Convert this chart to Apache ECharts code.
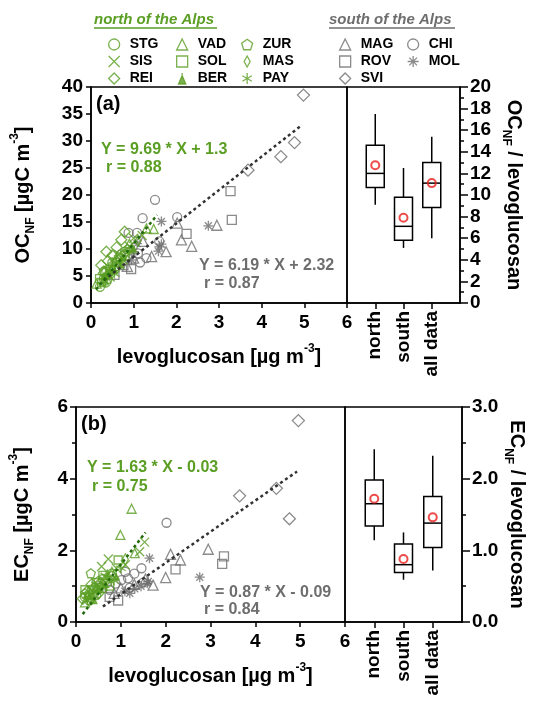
<!DOCTYPE html>
<html>
<head>
<meta charset="utf-8">
<script src="https://cdn.jsdelivr.net/npm/echarts@6/dist/echarts.min.js"></script>
<style>
  html, body { margin: 0; padding: 0; background: #fff; }
  #chart { width: 534px; height: 702px; }
</style>
</head>
<body>
<div id="chart"></div>
<script>
// ---- panel (a): [levoglucosan, OC_NF] ----
const STG_oc = [[0.21, 3.0], [0.3, 4.5], [0.45, 5.5], [0.5, 7.5], [0.6, 6.8], [0.8, 9.5], [0.35, 3.8], [0.7, 8.2]]
const SIS_oc = [[0.4, 6.0], [0.55, 7.2], [0.65, 9.0], [0.9, 10.5], [1.0, 12.0], [0.45, 4.8], [0.75, 8.0], [1.2, 12.5]]
const REI_oc = [[0.24, 7.0], [0.36, 9.5], [0.79, 13.2], [0.71, 11.7], [0.5, 8.8], [0.3, 5.5], [0.6, 10.3], [0.4, 7.8]]
const VAD_oc = [[0.13, 3.6], [1.47, 13.7], [1.3, 13.8], [0.9, 11.0], [0.5, 6.5], [0.3, 4.2]]
const SOL_oc = [[0.2, 4.5], [0.35, 5.8], [0.6, 7.5], [0.8, 8.8], [0.45, 6.2], [0.25, 3.8]]
const BER_oc = [[0.3, 5.0], [0.55, 6.0], [0.7, 7.0], [1.0, 10.0], [0.4, 5.2]]
const ZUR_oc = [[0.3, 6.0], [0.5, 7.0], [0.65, 8.5], [0.4, 4.5], [0.85, 10.0]]
const MAS_oc = [[0.35, 5.0], [0.6, 8.0], [1.1, 11.5], [0.5, 6.3], [0.8, 9.0]]
const PAY_oc = [[0.3, 4.0], [0.45, 5.8], [0.7, 7.5], [0.9, 9.5], [0.55, 5.4]]
const MAG_oc = [[1.22, 11.4], [1.42, 8.6], [1.76, 9.5], [2.02, 14.8], [2.12, 11.7], [2.36, 10.5], [2.95, 14.4], [1.0, 8.3], [0.85, 6.8]]
const ROV_oc = [[0.76, 7.0], [0.94, 6.3], [2.24, 12.8], [3.27, 20.7], [3.3, 15.4], [0.55, 5.2]]
const SVI_oc = [[3.68, 24.6], [4.45, 27.1], [4.77, 29.7], [4.98, 38.5]]
const CHI_oc = [[0.88, 13.0], [1.08, 13.0], [1.21, 15.7], [1.5, 19.1], [2.02, 15.9], [1.6, 11.4], [1.1, 9.2], [1.15, 7.5], [1.3, 8.3], [0.7, 9.0]]
const MOL_oc = [[1.65, 15.1], [2.75, 14.3], [1.6, 10.4], [1.58, 9.6], [1.65, 10.9], [1.08, 11.0], [1.0, 9.5], [0.95, 8.0]]

// ---- panel (b): [levoglucosan, EC_NF] ----
const STG_ec = [[0.2, 0.7], [0.35, 0.9], [0.5, 1.0], [0.6, 1.2], [0.8, 1.35], [0.3, 0.6], [0.45, 0.75], [0.7, 1.1]]
const SIS_ec = [[0.57, 1.55], [0.72, 1.76], [1.42, 1.96], [1.53, 2.23], [0.9, 1.5], [0.45, 1.0], [1.1, 1.6], [0.65, 1.25]]
const REI_ec = [[0.15, 0.65], [0.25, 0.85], [0.4, 0.95], [0.55, 1.1], [0.3, 0.7], [0.7, 1.2], [0.5, 0.8], [0.35, 1.05]]
const VAD_ec = [[1.24, 3.16], [0.99, 2.43], [1.31, 1.92], [0.8, 1.4], [0.4, 0.8], [0.2, 0.55]]
const SOL_ec = [[0.94, 1.73], [0.6, 1.3], [0.3, 0.75], [0.45, 1.1], [0.75, 1.0], [0.2, 0.9]]
const BER_ec = [[0.3, 0.7], [0.5, 0.9], [0.65, 1.05], [0.9, 1.25], [0.4, 0.6]]
const ZUR_ec = [[0.33, 1.36], [0.5, 1.15], [0.2, 0.8], [0.6, 0.95], [0.8, 1.3]]
const MAS_ec = [[0.35, 0.85], [0.55, 1.0], [1.1, 1.75], [0.7, 1.3], [0.25, 0.7]]
const PAY_ec = [[0.25, 0.6], [0.45, 0.85], [0.6, 0.95], [0.85, 1.15], [1.0, 1.5]]
const MAG_ec = [[2.0, 1.24], [2.11, 1.89], [2.33, 1.73], [2.95, 2.03], [1.72, 1.03], [1.3, 1.05], [1.0, 0.95], [1.55, 1.2], [0.85, 0.8]]
const ROV_ec = [[0.94, 0.6], [0.57, 0.95], [2.22, 1.47], [3.26, 1.62], [3.3, 1.83], [0.75, 0.7]]
const SVI_ec = [[3.65, 3.52], [4.47, 3.73], [4.76, 2.88], [4.96, 5.62]]
const CHI_ec = [[2.02, 2.77], [1.46, 1.5], [1.16, 1.22], [1.01, 1.17], [0.88, 1.07], [1.3, 1.35], [1.2, 0.95], [0.75, 0.9], [1.5, 1.1], [1.1, 1.4]]
const MOL_ec = [[2.76, 1.25], [1.64, 1.78], [1.61, 1.13], [1.31, 0.93], [1.09, 0.86], [1.59, 1.08], [1.45, 1.0], [1.2, 0.8]]

// regression line end points
const fitNorthOC = [[0.12, 2.5], [1.55, 16.3]]
const fitAllOC = [[0.3, 4.2], [4.95, 33.0]]
const fitNorthEC = [[0.15, 0.22], [1.55, 2.5]]
const fitAllEC = [[0.6, 0.43], [4.93, 4.2]]

// box plots: [category index, min, Q1, median, Q3, max]
const boxCategories = ['', 'north', 'south', 'all data', '']
const boxOC = [[1, 9.1, 10.7, 12.0, 14.6, 17.5], [2, 5.1, 5.8, 7.1, 9.8, 12.5], [3, 6.0, 8.85, 11.1, 13.0, 15.4]]
const meanOC = [[1, 12.75], [2, 7.9], [3, 11.1]]
const boxEC = [[1, 1.14, 1.34, 1.65, 1.98, 2.41], [2, 0.59, 0.69, 0.80, 1.09, 1.25], [3, 0.72, 1.04, 1.38, 1.75, 2.32]]
const meanEC = [[1, 1.72], [2, 0.88], [3, 1.46]]

const northSites = ['STG', 'SIS', 'REI', 'VAD', 'SOL', 'BER', 'ZUR', 'MAS', 'PAY']
const southSites = ['MAG', 'ROV', 'SVI', 'CHI', 'MOL']
const ocBySite = { STG: STG_oc, SIS: SIS_oc, REI: REI_oc, VAD: VAD_oc, SOL: SOL_oc, BER: BER_oc, ZUR: ZUR_oc, MAS: MAS_oc, PAY: PAY_oc, MAG: MAG_oc, ROV: ROV_oc, SVI: SVI_oc, CHI: CHI_oc, MOL: MOL_oc }
const ecBySite = { STG: STG_ec, SIS: SIS_ec, REI: REI_ec, VAD: VAD_ec, SOL: SOL_ec, BER: BER_ec, ZUR: ZUR_ec, MAS: MAS_ec, PAY: PAY_ec, MAG: MAG_ec, ROV: ROV_ec, SVI: SVI_ec, CHI: CHI_ec, MOL: MOL_ec }

const GREEN = '#5a9e23'
const GREEN_DARK = '#236b0c'
const GRAY = '#6e6e6e'
const FONT = 'Liberation Sans'

const CROSS = 'path://M0,0L10,10M10,0L0,10'
const PENTAGON = 'path://M5,0L10,3.6L8.1,9.5L1.9,9.5L0,3.6Z'
const ASTER6 = 'path://M5,0L5,10M0.7,2.5L9.3,7.5M0.7,7.5L9.3,2.5'
const ASTER8 = 'path://M5,0L5,10M0,5L10,5M1.5,1.5L8.5,8.5M8.5,1.5L1.5,8.5'

const siteStyle = {
  STG: { symbol: 'circle', size: 9 },
  SIS: { symbol: CROSS, size: 9 },
  REI: { symbol: 'diamond', size: 11 },
  VAD: { symbol: 'triangle', size: 9 },
  SOL: { symbol: 'rect', size: 8 },
  BER: { symbol: 'triangle', size: 6, filled: true },
  ZUR: { symbol: PENTAGON, size: 9 },
  MAS: { symbol: 'diamond', size: [6, 11] },
  PAY: { symbol: ASTER6, size: 10 },
  MAG: { symbol: 'triangle', size: 10 },
  ROV: { symbol: 'rect', size: 9 },
  SVI: { symbol: 'diamond', size: 12 },
  CHI: { symbol: 'circle', size: 9 },
  MOL: { symbol: ASTER8, size: 10 }
}

function siteSeries(name, data, color, panel) {
  const s = siteStyle[name]
  return {
    name: name,
    type: 'scatter',
    xAxisIndex: panel * 2,
    yAxisIndex: panel * 2,
    data: data,
    symbol: s.symbol,
    symbolSize: s.size,
    itemStyle: { color: s.filled ? color : 'rgba(0,0,0,0)', borderColor: color, borderWidth: 1.3 },
    emphasis: { disabled: true },
    z: color === GREEN ? 3 : 2
  }
}

function fitSeries(data, color, panel) {
  return {
    type: 'line', xAxisIndex: panel * 2, yAxisIndex: panel * 2,
    data: data, symbol: 'none', silent: true, z: 4,
    lineStyle: { color: color, width: 2.5, type: [3, 3] }
  }
}

function renderBox(params, api) {
  const x = api.value(0)
  const pMin = api.coord([x, api.value(1)])
  const pQ1 = api.coord([x, api.value(2)])
  const pMed = api.coord([x, api.value(3)])
  const pQ3 = api.coord([x, api.value(4)])
  const pMax = api.coord([x, api.value(5)])
  const w = 18
  const st = { stroke: '#000', lineWidth: 1.5, fill: 'none' }
  return {
    type: 'group',
    children: [
      { type: 'line', shape: { x1: pMin[0], y1: pMin[1], x2: pQ1[0], y2: pQ1[1] }, style: st },
      { type: 'line', shape: { x1: pQ3[0], y1: pQ3[1], x2: pMax[0], y2: pMax[1] }, style: st },
      { type: 'rect', shape: { x: pQ3[0] - w / 2, y: pQ3[1], width: w, height: pQ1[1] - pQ3[1] }, style: { stroke: '#000', lineWidth: 1.5, fill: '#fff' } },
      { type: 'line', shape: { x1: pMed[0] - w / 2, y1: pMed[1], x2: pMed[0] + w / 2, y2: pMed[1] }, style: st }
    ]
  }
}

function boxSeries(data, panel) {
  return {
    type: 'custom', xAxisIndex: panel * 2 + 1, yAxisIndex: panel * 2 + 1,
    data: data, encode: { x: 0, y: [1, 2, 3, 4, 5] }, renderItem: renderBox, silent: true
  }
}

function meanSeries(data, panel) {
  return {
    type: 'scatter', xAxisIndex: panel * 2 + 1, yAxisIndex: panel * 2 + 1,
    data: data, symbol: 'circle', symbolSize: 8, z: 5, silent: true,
    itemStyle: { color: 'rgba(0,0,0,0)', borderColor: '#e8211d', borderWidth: 2 }
  }
}

const rich = {
  b: { fontFamily: FONT, fontWeight: 'bold', fontSize: 20, lineHeight: 28, verticalAlign: 'middle', color: '#000' },
  s: { fontFamily: FONT, fontWeight: 'bold', fontSize: 12, lineHeight: 12, verticalAlign: 'bottom', color: '#000' },
  p: { fontFamily: FONT, fontWeight: 'bold', fontSize: 12, lineHeight: 12, verticalAlign: 'top', color: '#000' }
}
const axisLine = { show: true, lineStyle: { color: '#000', width: 1.5 } }
const tickLine = { color: '#000', width: 1.5 }
const labelStyle = { color: '#000', fontFamily: FONT, fontWeight: 'bold', fontSize: 19 }

function scatterX(grid, gap) {
  return {
    gridIndex: grid, type: 'value', min: 0, max: 6, interval: 1,
    axisLine: axisLine, axisTick: { length: 5, lineStyle: tickLine },
    axisLabel: Object.assign({ margin: 10 }, labelStyle),
    splitLine: { show: false },
    name: '{b|levoglucosan [µg m}{p|-3}{b|]}', nameLocation: 'middle', nameGap: gap,
    nameTextStyle: { rich: rich }
  }
}
function boxX(grid) {
  return {
    gridIndex: grid, type: 'category', data: boxCategories, boundaryGap: false,
    axisLine: axisLine,
    axisTick: { length: 6, lineStyle: tickLine, interval: function (i) { return i >= 1 && i <= 3 } },
    axisLabel: Object.assign({ rotate: 90, interval: 0, margin: 8 }, labelStyle),
    splitLine: { show: false }
  }
}

const legendBase = {
  orient: 'vertical', itemWidth: 11, itemHeight: 11, itemGap: 0, selectedMode: false,
  textStyle: { fontFamily: FONT, fontWeight: 'bold', fontSize: 14, color: '#000', lineHeight: 17, padding: [0, 0, 0, 5] },
  itemStyle: { borderWidth: 1.3 }, top: 31
}
function legendAt(left, names) {
  return Object.assign({}, legendBase, {
    left: left,
    data: names.map(function (n) {
      if (n === 'MAS') return { name: n, icon: 'path://M3,0L6,5.5L3,11L0,5.5Z' }
      if (n === 'BER') return { name: n, icon: 'path://M5,2L8,9L2,9Z M5,0L5,2' }
      return n
    })
  })
}

function eqText(x, y, text, color) {
  return { type: 'text', x: x, y: y, style: { text: text, fill: color, font: 'bold 16px ' + FONT, verticalAlign: 'middle' } }
}

const series = []
southSites.forEach(function (n) {
  series.push(siteSeries(n, ocBySite[n], GRAY, 0))
  series.push(siteSeries(n, ecBySite[n], GRAY, 1))
})
northSites.forEach(function (n) {
  series.push(siteSeries(n, ocBySite[n], GREEN, 0))
  series.push(siteSeries(n, ecBySite[n], GREEN, 1))
})
series.push(fitSeries(fitAllOC, '#333', 0), fitSeries(fitNorthOC, GREEN_DARK, 0))
series.push(fitSeries(fitAllEC, '#333', 1), fitSeries(fitNorthEC, GREEN_DARK, 1))
series.push(boxSeries(boxOC, 0), meanSeries(meanOC, 0))
series.push(boxSeries(boxEC, 1), meanSeries(meanEC, 1))

const chart = echarts.init(document.getElementById('chart'))
chart.setOption({
  backgroundColor: '#fff',
  animation: false,
  grid: [
    { left: 91, top: 87, width: 256, height: 216, show: true, borderColor: '#000', borderWidth: 1.5 },
    { left: 347, top: 87, width: 113, height: 216, show: true, borderColor: '#000', borderWidth: 1.5 },
    { left: 75, top: 407, width: 270, height: 215, show: true, borderColor: '#000', borderWidth: 1.5 },
    { left: 345, top: 407, width: 117, height: 215, show: true, borderColor: '#000', borderWidth: 1.5 }
  ],
  xAxis: [scatterX(0, 40), boxX(1), scatterX(2, 40), boxX(3)],
  yAxis: [
    {
      gridIndex: 0, type: 'value', min: 0, max: 40, interval: 5, position: 'left',
      axisLine: axisLine, axisTick: { show: true, length: 5, lineStyle: tickLine },
      axisLabel: Object.assign({ margin: 8 }, labelStyle), splitLine: { show: false },
      name: '{b|OC}{s|NF}{b| [µgC m}{p|-3}{b|]}', nameLocation: 'middle', nameRotate: 90, nameGap: 54,
      nameTextStyle: { rich: rich }
    },
    {
      gridIndex: 1, type: 'value', min: 0, max: 20, interval: 2, position: 'right',
      axisLine: axisLine, axisTick: { show: true, length: 8, lineStyle: tickLine },
      minorTick: { show: true, splitNumber: 2, length: 4, lineStyle: tickLine },
      axisLabel: Object.assign({ margin: 10 }, labelStyle), splitLine: { show: false },
      name: '{b|OC}{s|NF}{b| / levoglucosan}', nameLocation: 'middle', nameRotate: -90, nameGap: 40,
      nameTextStyle: { rich: rich }
    },
    {
      gridIndex: 2, type: 'value', min: 0, max: 6, interval: 2, position: 'left',
      axisLine: axisLine, axisTick: { show: true, length: 6, lineStyle: tickLine },
      minorTick: { show: true, splitNumber: 2, length: 4, lineStyle: tickLine },
      axisLabel: Object.assign({ margin: 8 }, labelStyle), splitLine: { show: false },
      name: '{b|EC}{s|NF}{b| [µgC m}{p|-3}{b|]}', nameLocation: 'middle', nameRotate: 90, nameGap: 40,
      nameTextStyle: { rich: rich }
    },
    {
      gridIndex: 3, type: 'value', min: 0, max: 3, interval: 1, position: 'right',
      axisLine: axisLine, axisTick: { show: true, length: 8, lineStyle: tickLine },
      minorTick: { show: true, splitNumber: 2, length: 4, lineStyle: tickLine },
      axisLabel: Object.assign({ margin: 10, formatter: function (v) { return v.toFixed(1) } }, labelStyle),
      splitLine: { show: false },
      name: '{b|EC}{s|NF}{b| / levoglucosan}', nameLocation: 'middle', nameRotate: -90, nameGap: 36,
      nameTextStyle: { rich: rich }
    }
  ],
  legend: [
    legendAt(103, ['STG', 'SIS', 'REI']),
    legendAt(171, ['VAD', 'SOL', 'BER']),
    legendAt(236, ['ZUR', 'MAS', 'PAY']),
    legendAt(334, ['MAG', 'ROV', 'SVI']),
    legendAt(402, ['CHI', 'MOL'])
  ],
  graphic: [
    { type: 'text', x: 94, y: 20, style: { text: 'north of the Alps', fill: GREEN, font: 'italic bold 15px ' + FONT, verticalAlign: 'middle' } },
    { type: 'line', shape: { x1: 94, y1: 28, x2: 217, y2: 28 }, style: { stroke: GREEN, lineWidth: 1.5 } },
    { type: 'text', x: 329, y: 20, style: { text: 'south of the Alps', fill: GRAY, font: 'italic bold 15px ' + FONT, verticalAlign: 'middle' } },
    { type: 'line', shape: { x1: 329, y1: 28, x2: 455, y2: 28 }, style: { stroke: GRAY, lineWidth: 1.5 } },
    { type: 'text', x: 96, y: 104, style: { text: '(a)', fill: '#000', font: 'bold 20px ' + FONT, verticalAlign: 'middle' } },
    { type: 'text', x: 81, y: 424, style: { text: '(b)', fill: '#000', font: 'bold 20px ' + FONT, verticalAlign: 'middle' } },
    eqText(101, 150, 'Y = 9.69 * X + 1.3', GREEN),
    eqText(106, 168, 'r = 0.88', GREEN),
    eqText(199, 265.5, 'Y = 6.19 * X + 2.32', GRAY),
    eqText(204, 284, 'r = 0.87', GRAY),
    eqText(87, 467.5, 'Y = 1.63 * X - 0.03', GREEN),
    eqText(92, 486.5, 'r = 0.75', GREEN),
    eqText(200, 593, 'Y = 0.87 * X - 0.09', GRAY),
    eqText(204, 610, 'r = 0.84', GRAY)
  ],
  series: series
})
</script>
</body>
</html>
